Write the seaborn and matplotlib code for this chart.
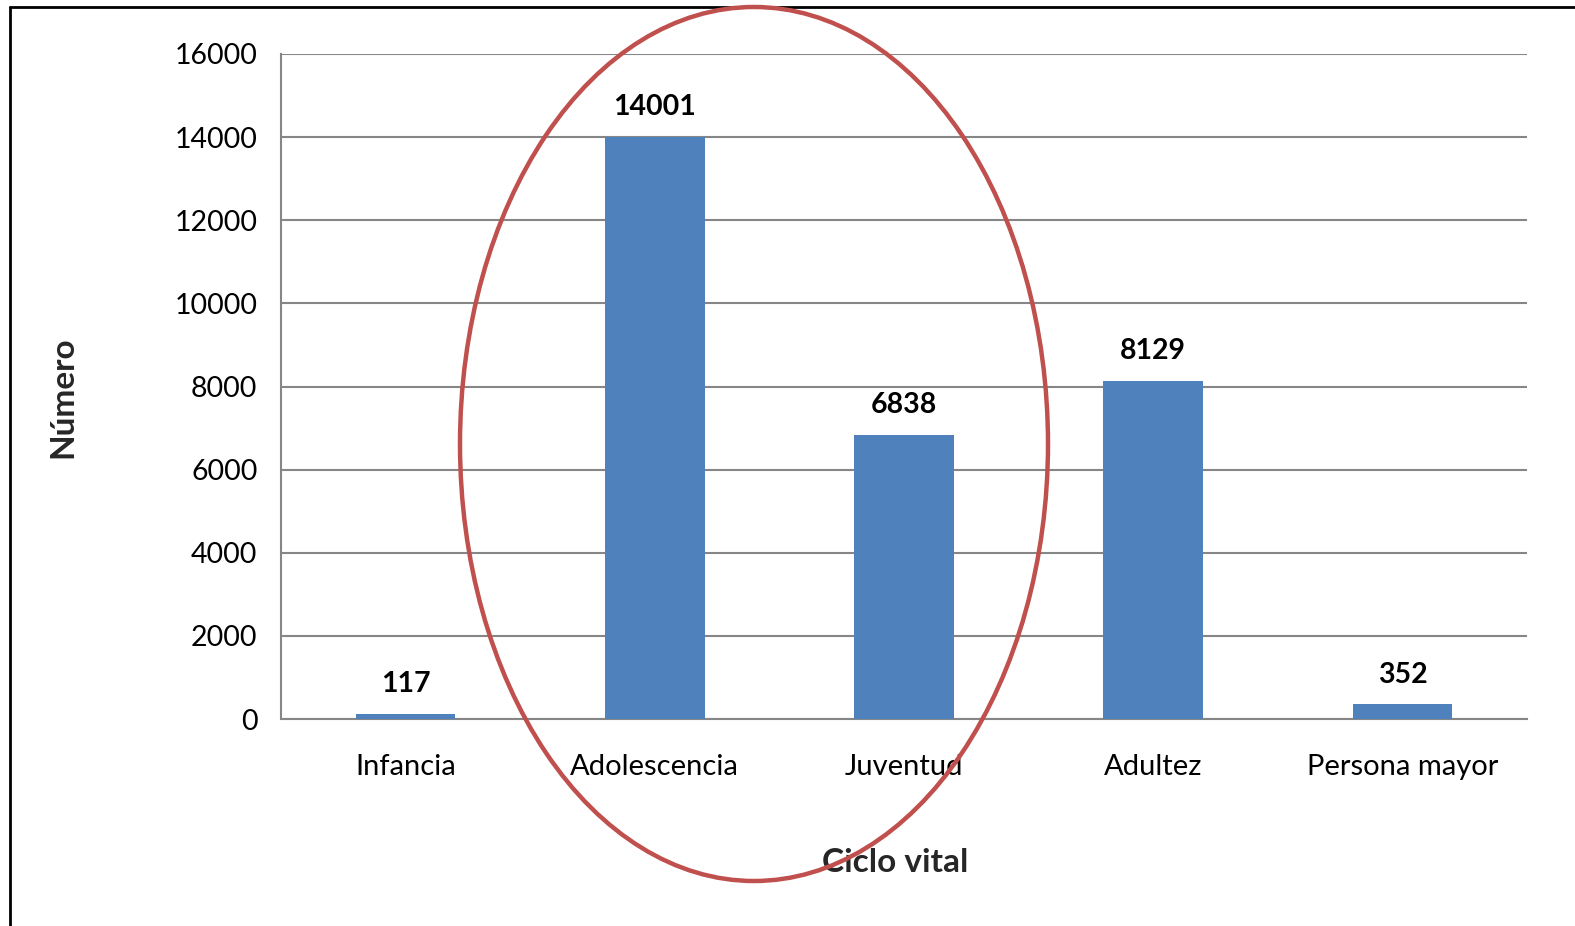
import matplotlib
matplotlib.use("Agg")
import matplotlib.pyplot as plt
from matplotlib.patches import Ellipse
from matplotlib.lines import Line2D
import seaborn as sns
import pandas as pd

categories = ["Infancia", "Adolescencia", "Juventud", "Adultez", "Persona mayor"]
values = [117, 14001, 6838, 8129, 352]
y_ticks = [0, 2000, 4000, 6000, 8000, 10000, 12000, 14000, 16000]

sns.set_theme(style="white")
plt.rcParams['font.family'] = ['Lato', 'DejaVu Sans']

df = pd.DataFrame({"Ciclo vital": categories, "Número": values})

W, H = 1575, 926
fig = plt.figure(figsize=(W / 100, H / 100), dpi=100)
ax = fig.add_axes([281 / W, 1 - 719 / H, (1527 - 281) / W, (719 - 54) / H])

grid_c = "#868686"
sns.barplot(data=df, x="Ciclo vital", y="Número", color="#4F81BD", width=0.4,
            saturation=1, linewidth=0, edgecolor="none", ax=ax, zorder=3)

ax.set_xlim(-0.5, len(categories) - 0.5)
ax.set_ylim(0, 16000)
ax.set_yticks(y_ticks)
ax.set_yticklabels([str(t) for t in y_ticks], fontsize=20.5)
ax.yaxis.grid(True, color=grid_c, linewidth=1.5, zorder=0)
ax.set_axisbelow(True)

ax.set_xticks(range(len(categories)))
ax.set_xticklabels(categories, fontsize=21)
ax.tick_params(axis="x", which="major", length=0, pad=25, colors="black")
ax.set_xticks([i - 0.5 for i in range(len(categories) + 1)], minor=True)
ax.tick_params(axis="x", which="minor", length=9, width=1.5, color=grid_c, direction="out")
ax.tick_params(axis="y", which="major", length=9, width=1.5, color=grid_c, direction="out",
               pad=8, labelcolor="black")

for s in ["top", "right"]:
    ax.spines[s].set_visible(False)
for s in ["left", "bottom"]:
    ax.spines[s].set_color(grid_c)
    ax.spines[s].set_linewidth(1.5)

for i, v in enumerate(values):
    ax.annotate(str(v), (i, v), xytext=(0, 12), textcoords="offset points",
                ha="center", va="bottom", fontsize=20.5, fontweight="bold", color="black")

ax.set_xlabel("")
ax.set_ylabel("")
fig.text(895 / W, 1 - 863 / H, "Ciclo vital", ha="center", va="center",
         fontsize=24, fontweight="bold")
fig.text(63 / W, 1 - 397 / H, "Número", ha="center", va="center", rotation=90,
         fontsize=24, fontweight="bold")

# frame lines (left and top)
fig.add_artist(Line2D([9.5 / W, 9.5 / W], [0, 1 - 7 / H], color="black", linewidth=2,
                      transform=fig.transFigure))
fig.add_artist(Line2D([9.5 / W, 1], [1 - 7 / H, 1 - 7 / H], color="black", linewidth=2,
                      transform=fig.transFigure))

# red ellipse overlay
ell = Ellipse((754 / W, 1 - 444 / H), 588 / W, 874 / H, transform=fig.transFigure,
              fill=False, edgecolor="#C0504D", linewidth=3.2, zorder=10)
fig.add_artist(ell)

fig.savefig("out.png", dpi=100, facecolor="white")
